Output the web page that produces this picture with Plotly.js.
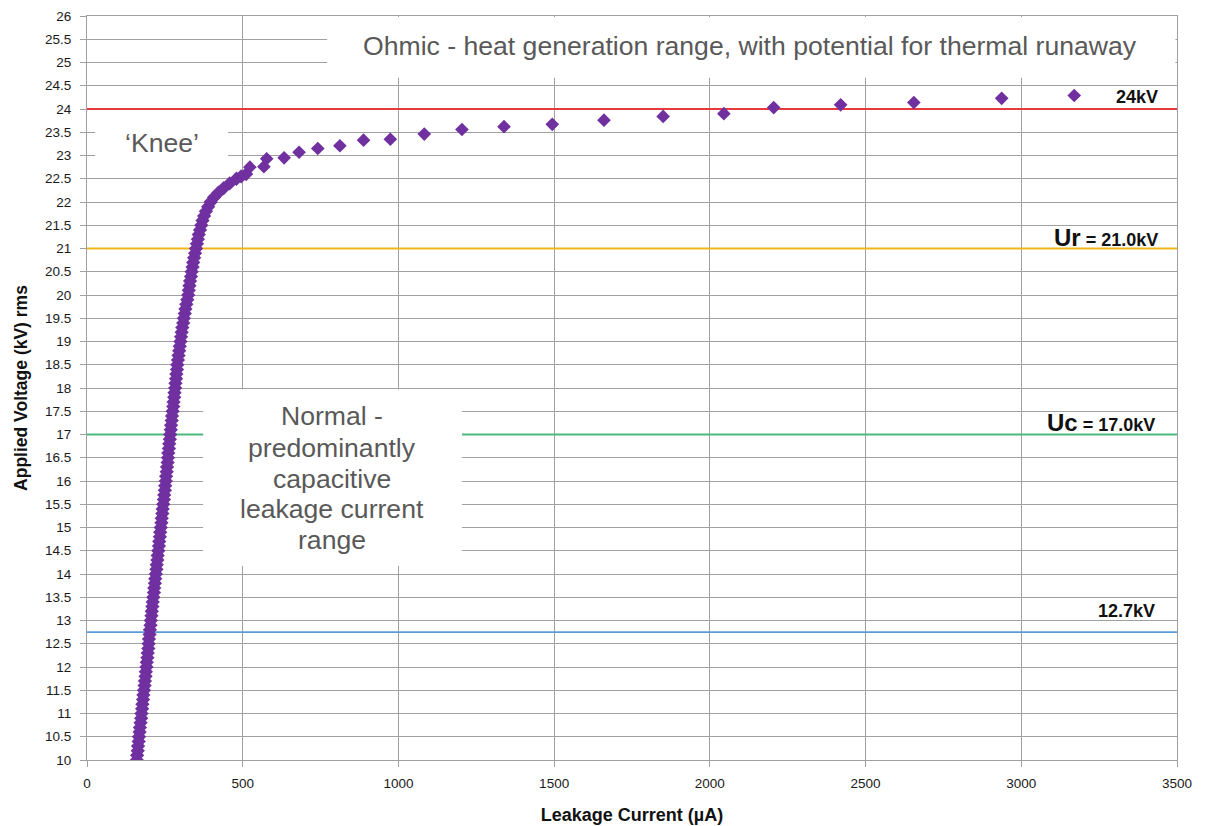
<!DOCTYPE html>
<html>
<head>
<meta charset="utf-8">
<script src="https://cdn.plot.ly/plotly-3.0.1.min.js"></script>
<style>
html,body{margin:0;padding:0;background:#fff;}
#chart{width:1208px;height:826px;}
</style>
</head>
<body>
<div id="chart"></div>
<script>
// Dense part of the V-I curve (leakage current µA, applied voltage kV)
const denseCurrent = [160,161,163,164,166,167,169,170,172,174,175,177,178,180,181,183,185,186,188,189,
  191,192,194,195,197,198,199,201,202,204,205,207,208,210,211,213,215,216,218,219,
  221,223,224,226,227,229,231,232,234,235,237,239,240,242,243,245,247,248,250,251,
  253,254,256,257,259,260,261,263,264,266,267,269,270,272,273,275,277,278,280,281,
  283,284,286,287,289,290,292,294,296,298,300,302,304,306,309,311,314,316,319,322,
  325,327,329,331,334,336,339,341,344,347,350,353,356,359,363,367,371,376,382,389,
  397,408,422,439,458,480,495,511];
const denseVoltage = [10.0,10.1,10.2,10.3,10.4,10.5,10.6,10.7,10.8,10.9,11.0,11.1,11.2,11.3,11.4,11.5,11.6,11.7,11.8,11.9,
  12.0,12.1,12.2,12.3,12.4,12.5,12.6,12.7,12.8,12.9,13.0,13.1,13.2,13.3,13.4,13.5,13.6,13.7,13.8,13.9,
  14.0,14.1,14.2,14.3,14.4,14.5,14.6,14.7,14.8,14.9,15.0,15.1,15.2,15.3,15.4,15.5,15.6,15.7,15.8,15.9,
  16.0,16.1,16.2,16.3,16.4,16.5,16.6,16.7,16.8,16.9,17.0,17.1,17.2,17.3,17.4,17.5,17.6,17.7,17.8,17.9,
  18.0,18.1,18.2,18.3,18.4,18.5,18.6,18.7,18.8,18.9,19.0,19.1,19.2,19.3,19.4,19.5,19.6,19.7,19.8,19.9,
  20.0,20.1,20.2,20.3,20.4,20.5,20.6,20.7,20.8,20.9,21.0,21.1,21.2,21.3,21.4,21.5,21.6,21.7,21.8,21.9,
  22.0,22.1,22.2,22.3,22.4,22.5,22.55,22.6];
// Sparse points above the knee
const sparseCurrent = [523,568,577,633,681,741,812,888,974,1083,1204,1339,1494,1660,1850,2045,2205,2420,2655,2937,3170];
const sparseVoltage = [22.75,22.76,22.93,22.95,23.07,23.15,23.21,23.33,23.35,23.46,23.56,23.62,23.67,23.76,23.84,23.90,24.03,24.09,24.14,24.23,24.29];

// Reference voltage levels
const levelValues = [24, 21, 17, 12.75];
const levelColors = ['#e63a3f', '#f2b51c', '#4dba7c', '#5b9bd5'];

const xTickVals = [0,500,1000,1500,2000,2500,3000,3500];
const yTickVals = [];
for (let v = 10; v <= 26.001; v += 0.5) yTickVals.push(Math.round(v*10)/10);

const markerColor = '#7030a0';
const gridColor = '#a0a0a0';
const tickFont = {family: 'Liberation Sans, Arial, sans-serif', size: 13.5, color: '#1a1a1a'};
const boxFont = {family: 'Liberation Sans, Arial, sans-serif', size: 26.6, color: '#595959'};
const lblFont = {family: 'Liberation Sans, Arial, sans-serif', size: 18, color: '#111'};

const traces = [
  {x: denseCurrent, y: denseVoltage, type: 'scatter', mode: 'markers',
   marker: {symbol: 'diamond', size: 11, color: markerColor}, hoverinfo: 'x+y', showlegend: false},
  {x: sparseCurrent, y: sparseVoltage, type: 'scatter', mode: 'markers',
   marker: {symbol: 'diamond', size: 10.5, color: markerColor}, hoverinfo: 'x+y', showlegend: false}
];

const shapes = [];
levelValues.forEach((v, i) => {
  shapes.push({type: 'line', xref: 'x', yref: 'y', x0: 0, x1: 3500, y0: v, y1: v,
    line: {color: levelColors[i], width: 1.8}, layer: 'between'});
});
// White text boxes
shapes.push({type: 'rect', xref: 'x', yref: 'y', x0: 771, x1: 3495, y0: 24.67, y1: 25.98,
  fillcolor: '#ffffff', line: {width: 0}, layer: 'between'});
shapes.push({type: 'rect', xref: 'x', yref: 'y', x0: 26, x1: 453, y0: 22.93, y1: 23.8,
  fillcolor: '#ffffff', line: {width: 0}, layer: 'between'});
shapes.push({type: 'rect', xref: 'x', yref: 'y', x0: 373, x1: 1204, y0: 14.17, y1: 17.97,
  fillcolor: '#ffffff', line: {width: 0}, layer: 'between'});

const annotations = [
  {xref: 'x', yref: 'y', x: 2130, y: 25.35, text: 'Ohmic - heat generation range, with potential for thermal runaway',
   showarrow: false, font: boxFont, xanchor: 'center', yanchor: 'middle'},
  {xref: 'x', yref: 'y', x: 241, y: 23.27, text: '\u2018Knee\u2019',
   showarrow: false, font: boxFont, xanchor: 'center', yanchor: 'middle'},
  {xref: 'x', yref: 'y', x: 787, y: 17.4, text: 'Normal -', showarrow: false, font: boxFont},
  {xref: 'x', yref: 'y', x: 787, y: 16.72, text: 'predominantly', showarrow: false, font: boxFont},
  {xref: 'x', yref: 'y', x: 787, y: 16.05, text: 'capacitive', showarrow: false, font: boxFont},
  {xref: 'x', yref: 'y', x: 787, y: 15.39, text: 'leakage current', showarrow: false, font: boxFont},
  {xref: 'x', yref: 'y', x: 787, y: 14.74, text: 'range', showarrow: false, font: boxFont},
  {xref: 'x', yref: 'y', x: 3446, y: 24.26, text: '<b>24kV</b>', showarrow: false, font: lblFont, xanchor: 'right', yanchor: 'middle'},
  {xref: 'x', yref: 'y', x: 3446, y: 21.24, text: '<b><span style="font-size:24px">Ur</span> = 21.0kV</b>', showarrow: false, font: lblFont, xanchor: 'right', yanchor: 'middle'},
  {xref: 'x', yref: 'y', x: 3436, y: 17.25, text: '<b><span style="font-size:24px">Uc</span> = 17.0kV</b>', showarrow: false, font: lblFont, xanchor: 'right', yanchor: 'middle'},
  {xref: 'x', yref: 'y', x: 3436, y: 13.2, text: '<b>12.7kV</b>', showarrow: false, font: lblFont, xanchor: 'right', yanchor: 'middle'}
];

const layout = {
  width: 1208, height: 826,
  margin: {l: 87, r: 31, t: 16, b: 66, pad: 0},
  paper_bgcolor: '#ffffff', plot_bgcolor: '#ffffff',
  showlegend: false,
  xaxis: {
    range: [0, 3500], tickvals: xTickVals, ticktext: xTickVals.map(String),
    showgrid: true, gridcolor: gridColor, gridwidth: 1,
    zeroline: false, showline: true, linecolor: gridColor, linewidth: 1, mirror: true,
    ticks: 'outside', ticklen: 6, tickcolor: gridColor, tickfont: tickFont, ticklabelstandoff: 5,
    title: {text: '<b>Leakage Current (µA)</b>', font: {family: lblFont.family, size: 18, color: '#111'}, standoff: 18}
  },
  yaxis: {
    range: [10, 26], tickvals: yTickVals, ticktext: yTickVals.map(String),
    showgrid: true, gridcolor: gridColor, gridwidth: 1,
    zeroline: false, showline: true, linecolor: gridColor, linewidth: 1, mirror: true,
    ticks: 'outside', ticklen: 6, tickcolor: gridColor, tickfont: tickFont, ticklabelstandoff: 6,
    title: {text: '<b>Applied Voltage (kV) rms</b>', font: {family: lblFont.family, size: 17.5, color: '#111'}, standoff: 12}
  },
  shapes: shapes,
  annotations: annotations
};

Plotly.newPlot('chart', traces, layout, {displayModeBar: false, staticPlot: true});
</script>
</body>
</html>
